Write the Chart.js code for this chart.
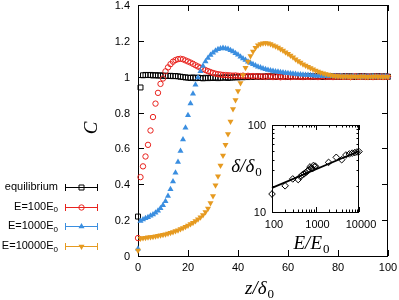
<!DOCTYPE html>
<html>
<head>
<meta charset="utf-8">
<script src="https://cdn.jsdelivr.net/npm/chart.js@4"></script>
<style>
body{margin:0;background:#fff}
#wrap{position:relative;width:399px;height:300px}
canvas{position:absolute;left:0;top:0}
</style>
</head>
<body>
<div id="wrap">
<canvas id="main" width="399" height="300"></canvas>
<canvas id="inset" width="399" height="300"></canvas>
</div>
<script>
var zGrid = [0,1,2,3,4,5,6,7,8,9,10,11,12,13,14,15,16,17,18,19,20,21,22,23,24,25,26,27,28,29,30,31,32,33,34,35,36,37,38,39,40,41,42,43,44,45,46,47,48,49,50,51,52,53,54,55,56,57,58,59,60,61,62,63,64,65,66,67,68,69,70,71,72,73,74,75,76,77,78,79,80,81,82,83,84,85,86,87,88,89,90,91,92,93,94,95,96,97,98,99,100]

var equilibrium = [0.22,0.94,1.008,1.01,1.009,1.01,1.007,1.009,1.006,1.008,
  1.005,1.006,1.004,1.005,1.003,1.004,1.002,1.0,0.998,0.996,
  0.995,0.993,0.996,0.992,0.995,0.993,0.991,0.994,0.992,0.995,
  0.993,0.996,0.992,0.995,0.994,0.997,0.993,0.996,0.995,0.998,
  0.996,0.999,0.997,1.0,0.998,1.001,0.999,1.0,1.002,0.999,
  1.001,1.0,1.003,1.0,1.002,0.999,1.001,1.003,1.0,1.002,
  0.999,1.002,1.001,1.003,1.0,1.002,0.999,1.001,1.003,1.0,
  1.002,1.0,1.003,1.001,0.999,1.002,1.0,1.003,1.001,1.0,
  1.002,0.999,1.001,1.003,1.0,1.002,1.0,0.999,1.002,1.001,
  1.003,1.0,1.001,0.999,1.002,1.0,1.003,1.001,1.0,1.002,1.0]

var e100 = [0.10,0.44,0.50,0.555,0.62,0.70,0.775,0.85,0.91,0.96,
  0.99,1.03,1.052,1.07,1.084,1.093,1.098,1.10,1.097,1.091,
  1.085,1.079,1.072,1.064,1.057,1.05,1.043,1.037,1.031,1.026,
  1.021,1.017,1.014,1.012,1.01,1.009,1.008,1.007,1.006,1.007,
  1.005,1.004,1.006,1.003,1.005,1.002,1.004,1.001,1.003,1.0,
  1.002,0.999,1.003,1.001,0.998,1.002,1.0,0.997,1.001,0.999,
  1.002,0.998,1.0,1.003,0.999,1.001,0.998,1.002,1.0,0.999,
  1.002,1.0,0.998,1.001,1.003,0.999,1.001,1.0,0.998,1.002,
  1.0,1.001,0.999,1.002,1.0,0.998,1.001,1.003,0.999,1.0,
  1.002,0.999,1.001,1.0,0.998,1.002,1.0,1.001,0.999,1.001,1.0]

var e1000 = [0.04,0.195,0.204,0.21,0.216,0.224,0.232,0.241,0.252,0.266,
  0.283,0.305,0.335,0.372,0.415,0.465,0.525,0.585,0.65,0.715,
  0.785,0.85,0.905,0.955,0.995,1.03,1.06,1.085,1.105,1.121,
  1.134,1.145,1.153,1.158,1.16,1.158,1.154,1.148,1.14,1.131,
  1.122,1.112,1.102,1.093,1.084,1.076,1.069,1.062,1.056,1.051,
  1.046,1.042,1.038,1.035,1.032,1.029,1.027,1.025,1.023,1.021,
  1.019,1.018,1.016,1.015,1.013,1.012,1.011,1.01,1.009,1.008,
  1.007,1.006,1.005,1.006,1.004,1.005,1.003,1.004,1.002,1.003,
  1.001,1.003,1.0,1.002,1.001,0.999,1.002,1.0,1.001,0.999,
  1.002,1.0,1.001,0.999,1.002,1.0,1.001,1.0,0.999,1.002,1.0]

var e10000 = [0.03,0.098,0.1,0.102,0.104,0.106,0.108,0.11,0.113,0.116,
  0.119,0.122,0.126,0.13,0.134,0.139,0.144,0.15,0.156,0.163,
  0.17,0.178,0.186,0.195,0.205,0.216,0.229,0.245,0.265,0.295,
  0.335,0.395,0.445,0.505,0.56,0.62,0.68,0.75,0.82,0.87,
  0.92,0.965,1.01,1.05,1.085,1.115,1.14,1.162,1.175,1.183,
  1.187,1.188,1.186,1.182,1.176,1.17,1.163,1.155,1.146,1.137,
  1.128,1.118,1.108,1.098,1.088,1.079,1.07,1.062,1.055,1.048,
  1.041,1.035,1.029,1.024,1.019,1.015,1.012,1.009,1.006,1.004,
  1.003,1.002,1.0,1.002,1.001,0.999,1.002,1.0,1.001,1.0,
  1.002,1.0,0.999,1.001,1.0,1.002,1.0,1.001,0.999,1.001,1.0]

var seriesLabels = [["equilibrium",""],["E=100E","0"],["E=1000E","0"],["E=10000E","0"]]
var seriesColors = ["#000000","#e8231e","#3a8ee0","#e69a20"]

var xTicks = [0,20,40,60,80,100]
var yTicks = [0,0.2,0.4,0.6,0.8,1,1.2,1.4]
var yTickLabels = ["0","0.2","0.4","0.6","0.8","1","1.2","1.4"]

var insetE = [100,200,300,400,450,500,550,600,650,700,750,800,850,900,950,1000,2000,3000,4000,5000,6000,7000,8000,9000,10000]
var insetDelta = [16.1,20.0,24.0,23.6,25.5,26.8,27.5,28.5,29.5,30.5,33.0,32.0,31.5,34.3,33.3,33.5,37.2,42.5,39.9,45.2,46.5,47.5,48.2,49.0,49.5]
var fitE = [100,10000]
var fitDelta = [18.9,50.2]
var insetXTicks = [100,200,300,400,500,600,700,800,900,1000,2000,3000,4000,5000,6000,7000,8000,9000,10000]
var insetXMajor = [100,1000,10000]
var insetYTicks = [10,20,30,40,50,60,70,80,90,100]
var insetYMajor = [10,100]

var sans = '"Liberation Sans", Arial, sans-serif'
var serif = '"Liberation Serif", "Times New Roman", serif'

function pts(xs, ys){
  return ys.map((y,i)=>({x:xs[i], y:y}))
}

// italic letters with an upright subscript 0, centred on (cx, cy)
function mathLabel(ctx, main, sub, cx, cy, size){
  ctx.font = 'italic ' + size + 'px ' + serif
  let w1 = ctx.measureText(main).width
  ctx.font = Math.round(size*0.7) + 'px ' + serif
  let w2 = ctx.measureText(sub).width
  let x0 = cx - (w1+w2)/2
  ctx.textAlign = 'left'
  ctx.textBaseline = 'alphabetic'
  ctx.font = 'italic ' + size + 'px ' + serif
  ctx.fillText(main, x0, cy + size*0.3)
  ctx.font = Math.round(size*0.7) + 'px ' + serif
  ctx.fillText(sub, x0 + w1 + 1, cy + size*0.3 + size*0.22)
}

function drawMarker(ctx, i, x, y){
  ctx.beginPath()
  if(i==0){
    ctx.rect(x-2.5, y-2.5, 5, 5)
    ctx.stroke()
  } else if(i==1){
    ctx.arc(x, y, 2.7, 0, Math.PI*2)
    ctx.stroke()
  } else if(i==2){
    ctx.moveTo(x, y-3.4); ctx.lineTo(x+3, y+1.8); ctx.lineTo(x-3, y+1.8); ctx.closePath()
    ctx.fill()
  } else {
    ctx.moveTo(x, y+3.4); ctx.lineTo(x+3, y-1.8); ctx.lineTo(x-3, y-1.8); ctx.closePath()
    ctx.fill()
  }
}

var mainFrame = {
  id:'mainFrame',
  beforeDatasetsDraw(chart){
    let ctx = chart.ctx, a = chart.chartArea
    let xs = chart.scales.x, ys = chart.scales.y
    ctx.save()
    ctx.strokeStyle = '#000'
    ctx.lineWidth = 1
    ctx.strokeRect(a.left+0.5, a.top+0.5, a.right-a.left-1, a.bottom-a.top)
    ctx.beginPath()
    yTicks.forEach(v=>{
      let p = Math.round(ys.getPixelForValue(v))+0.5
      ctx.moveTo(a.left, p); ctx.lineTo(a.left+6, p)
      ctx.moveTo(a.right, p); ctx.lineTo(a.right-6, p)
    })
    xTicks.forEach(v=>{
      let p = Math.round(xs.getPixelForValue(v))+0.5
      ctx.moveTo(p, a.bottom); ctx.lineTo(p, a.bottom-6)
      ctx.moveTo(p, a.top); ctx.lineTo(p, a.top+6)
    })
    ctx.stroke()
    ctx.restore()
  },
  afterDraw(chart){
    let ctx = chart.ctx, a = chart.chartArea
    let xs = chart.scales.x, ys = chart.scales.y
    ctx.save()
    ctx.fillStyle = '#000'
    ctx.font = '11px ' + sans
    ctx.textAlign = 'right'
    ctx.textBaseline = 'middle'
    yTicks.forEach((v,i)=>{
      ctx.fillText(yTickLabels[i], a.left-8, ys.getPixelForValue(v)+1)
    })
    ctx.textAlign = 'center'
    xTicks.forEach(v=>{
      ctx.fillText(String(v), xs.getPixelForValue(v), a.bottom+12)
    })
    // axis titles
    ctx.save()
    ctx.translate(92, 128)
    ctx.rotate(-Math.PI/2)
    ctx.font = 'italic 19px ' + serif
    ctx.textAlign = 'center'
    ctx.textBaseline = 'middle'
    ctx.fillText('C', 0, 0)
    ctx.restore()
    mathLabel(ctx, 'z/δ', '0', 259, 288, 19)
    // legend
    chart.data.datasets.forEach((ds,i)=>{
      let y = 187 + i*19.6
      ctx.font = '11px ' + sans
      ctx.textBaseline = 'middle'
      ctx.fillStyle = '#000'
      let lab = seriesLabels[i]
      ctx.font = '8px ' + sans
      let sw = lab[1] ? ctx.measureText(lab[1]).width : 0
      ctx.font = '11px ' + sans
      ctx.textAlign = 'right'
      ctx.fillText(lab[0], 58 - sw, y)
      if(lab[1]){
        ctx.font = '8px ' + sans
        ctx.textAlign = 'left'
        ctx.fillText(lab[1], 58 - sw, y+3.5)
      }
      ctx.strokeStyle = seriesColors[i]
      ctx.fillStyle = seriesColors[i]
      ctx.lineWidth = 1
      ctx.beginPath()
      ctx.moveTo(65, Math.round(y)+0.5); ctx.lineTo(98, Math.round(y)+0.5)
      ctx.moveTo(65.5, Math.round(y)-3); ctx.lineTo(65.5, Math.round(y)+4)
      ctx.moveTo(97.5, Math.round(y)-3); ctx.lineTo(97.5, Math.round(y)+4)
      ctx.stroke()
      drawMarker(ctx, i, 81.5, Math.round(y)+0.5)
    })
    ctx.restore()
  }
}

var mainChart = new Chart(document.getElementById('main'), {
  type:'scatter',
  data:{
    datasets:[
      {label:'equilibrium', data:pts(zGrid, equilibrium), pointStyle:'rect', pointRadius:3.5,
        borderColor:seriesColors[0], backgroundColor:'rgba(0,0,0,0)', pointBorderWidth:1, order:4, clip:false},
      {label:'E=100E0', data:pts(zGrid, e100), pointStyle:'circle', pointRadius:2.7,
        borderColor:seriesColors[1], backgroundColor:'rgba(0,0,0,0)', pointBorderWidth:1, order:3, clip:false},
      {label:'E=1000E0', data:pts(zGrid, e1000), pointStyle:'triangle', pointRadius:3.5,
        borderColor:seriesColors[2], backgroundColor:seriesColors[2], pointBorderWidth:0, order:2, clip:false},
      {label:'E=10000E0', data:pts(zGrid, e10000), pointStyle:'triangle', pointRotation:180, pointRadius:3.5,
        borderColor:seriesColors[3], backgroundColor:seriesColors[3], pointBorderWidth:0, order:1, clip:false}
    ]
  },
  options:{
    responsive:false,
    animation:false,
    events:[],
    layout:{padding:{left:138, right:11, top:5, bottom:44}},
    scales:{
      x:{type:'linear', min:0, max:100, display:false},
      y:{type:'linear', min:0, max:1.4, display:false}
    },
    plugins:{legend:{display:false}, tooltip:{enabled:false}}
  },
  plugins:[mainFrame]
})

var insetFrame = {
  id:'insetFrame',
  beforeDatasetsDraw(chart){
    let ctx = chart.ctx, a = chart.chartArea
    let xs = chart.scales.x, ys = chart.scales.y
    ctx.save()
    ctx.strokeStyle = '#000'
    ctx.lineWidth = 1
    ctx.strokeRect(a.left+0.5, a.top+0.5, a.right-a.left-1, a.bottom-a.top)
    ctx.beginPath()
    insetXTicks.forEach(v=>{
      let len = insetXMajor.includes(v) ? 5 : 2.5
      let p = Math.round(xs.getPixelForValue(v))+0.5
      ctx.moveTo(p, a.bottom); ctx.lineTo(p, a.bottom-len)
      ctx.moveTo(p, a.top); ctx.lineTo(p, a.top+len)
    })
    insetYTicks.forEach(v=>{
      let len = insetYMajor.includes(v) ? 5 : 2.5
      let p = Math.round(ys.getPixelForValue(v))+0.5
      ctx.moveTo(a.left, p); ctx.lineTo(a.left+len, p)
      ctx.moveTo(a.right, p); ctx.lineTo(a.right-len, p)
    })
    ctx.stroke()
    ctx.restore()
  },
  afterDraw(chart){
    let ctx = chart.ctx, a = chart.chartArea
    let xs = chart.scales.x, ys = chart.scales.y
    ctx.save()
    ctx.fillStyle = '#000'
    ctx.font = '11px ' + sans
    ctx.textAlign = 'right'
    ctx.textBaseline = 'middle'
    insetYMajor.forEach(v=>{
      ctx.fillText(String(v), a.left-6, ys.getPixelForValue(v)+1)
    })
    ctx.textAlign = 'center'
    insetXMajor.forEach(v=>{
      ctx.fillText(String(v), xs.getPixelForValue(v)+2, a.bottom+13)
    })
    mathLabel(ctx, 'δ/δ', '0', 246, 166, 19)
    mathLabel(ctx, 'E/E', '0', 311, 243, 19)
    ctx.restore()
  }
}

var insetChart = new Chart(document.getElementById('inset'), {
  type:'scatter',
  data:{
    datasets:[
      {label:'fit', data:pts(fitE, fitDelta), showLine:true, borderColor:'#000', borderWidth:1.8, pointRadius:0, clip:false},
      {label:'delta', data:pts(insetE, insetDelta), pointStyle:'rectRot', pointRadius:3.3,
        borderColor:'#000', backgroundColor:'rgba(0,0,0,0)', pointBorderWidth:1, clip:false}
    ]
  },
  options:{
    responsive:false,
    animation:false,
    events:[],
    layout:{padding:{left:272, right:40, top:125, bottom:88}},
    scales:{
      x:{type:'logarithmic', min:100, max:10000, display:false},
      y:{type:'logarithmic', min:10, max:100, display:false}
    },
    plugins:{legend:{display:false}, tooltip:{enabled:false}}
  },
  plugins:[insetFrame]
})
</script>
</body>
</html>
